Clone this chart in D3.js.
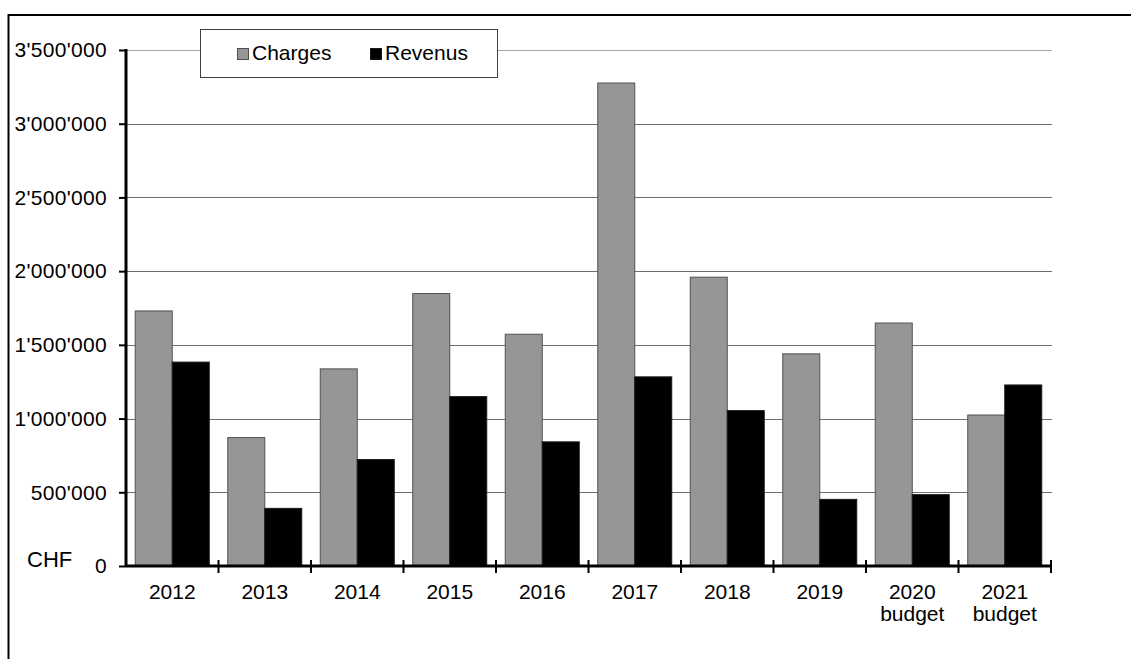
<!DOCTYPE html>
<html>
<head>
<meta charset="utf-8">
<script src="https://cdn.jsdelivr.net/npm/d3@7"></script>
<style>
  body { margin: 0; background: #fff; }
  svg { display: block; font-family: "Liberation Sans", Arial, sans-serif; }
</style>
</head>
<body>
<script>
// values (CHF)
const categories = ['2012', '2013', '2014', '2015', '2016', '2017', '2018', '2019', '2020 budget', '2021 budget'];
const charges = [1730000, 871000, 1337000, 1848000, 1572000, 3276000, 1959000, 1439000, 1648000, 1024000];
const revenus = [1383000, 391000, 722000, 1149000, 842000, 1283000, 1054000, 452000, 484000, 1228000];
const seriesNames = ['Charges', 'Revenus'];
const seriesColors = ['#969696', '#000000'];
const yTicks = [0, 500000, 1000000, 1500000, 2000000, 2500000, 3000000, 3500000];

const width = 1131, height = 659;
const plotLeft = 126, plotRight = 1051, plotTop = 50, plotBottom = 566;
const fontSize = 21;

let svg = d3.select('body').append('svg')
  .attr('width', width)
  .attr('height', height);

// frame (only top and left edges visible)
svg.append('path')
  .attr('d', `M8.5,${height}V15H${width}`)
  .attr('fill', 'none')
  .attr('stroke', '#000')
  .attr('stroke-width', 2);

let swiss = d3.formatLocale({ decimal: '.', thousands: "'", grouping: [3], currency: ['', ''] });
let fmt = swiss.format(',');

let x0 = d3.scaleBand()
  .domain(categories)
  .range([plotLeft, plotRight])
  .paddingInner(0.2)
  .paddingOuter(0.1);

let x1 = d3.scaleBand()
  .domain(seriesNames)
  .range([0, x0.bandwidth()]);

let y = d3.scaleLinear()
  .domain([0, 3500000])
  .range([plotBottom, plotTop]);

// gridlines
svg.append('g')
  .selectAll('line')
  .data(yTicks.slice(1))
  .enter()
  .append('line')
  .attr('x1', plotLeft)
  .attr('x2', plotRight + 1)
  .attr('y1', d => Math.round(y(d)) + 0.5)
  .attr('y2', d => Math.round(y(d)) + 0.5)
  .attr('stroke', d => d === 3500000 ? '#a6a6a6' : '#6e6e6e')
  .attr('stroke-width', 1.2);

// bars
let rows = categories.map((c, i) => ({ cat: c, values: [charges[i], revenus[i]] }));

svg.append('g')
  .selectAll('g')
  .data(rows)
  .enter()
  .append('g')
  .attr('transform', d => `translate(${x0(d.cat)},0)`)
  .selectAll('rect')
  .data(d => d.values.map((v, k) => ({ key: seriesNames[k], value: v, k: k })))
  .enter()
  .append('rect')
  .attr('x', d => x1(d.key))
  .attr('width', x1.bandwidth())
  .attr('y', d => y(d.value))
  .attr('height', d => y(0) - y(d.value))
  .attr('fill', d => seriesColors[d.k])
  .attr('stroke', d => d.k === 0 ? '#505050' : '#1a1a1a')
  .attr('stroke-width', 1);

// y axis
let yAxis = svg.append('g')
  .attr('transform', `translate(${plotLeft},0)`)
  .call(d3.axisLeft(y).tickValues(yTicks).tickFormat(fmt).tickSize(7).tickPadding(12));
yAxis.select('.domain').remove();
yAxis.selectAll('.tick line').attr('stroke', '#000').attr('stroke-width', 2);
yAxis.selectAll('.tick text')
  .attr('font-size', fontSize)
  .attr('font-family', '"Liberation Sans", Arial, sans-serif')
  .attr('letter-spacing', 0.3)
  .attr('fill', '#000');
yAxis.append('line')
  .attr('x1', 0).attr('x2', 0)
  .attr('y1', plotTop - 1).attr('y2', plotBottom + 1)
  .attr('stroke', '#000')
  .attr('stroke-width', 3);

// x axis
let step = x0.step();
let boundaries = d3.range(categories.length + 1).map(i => plotLeft + i * step);

let xAxis = svg.append('g');
xAxis.append('line')
  .attr('x1', plotLeft).attr('x2', plotRight + 1)
  .attr('y1', plotBottom).attr('y2', plotBottom)
  .attr('stroke', '#000')
  .attr('stroke-width', 3);
xAxis.selectAll('line.tick')
  .data(boundaries.slice(1))
  .enter()
  .append('line')
  .attr('class', 'tick')
  .attr('x1', d => d).attr('x2', d => d)
  .attr('y1', plotBottom - 6).attr('y2', plotBottom + 7)
  .attr('stroke', '#000')
  .attr('stroke-width', 2);

xAxis.selectAll('text')
  .data(categories)
  .enter()
  .append('text')
  .attr('x', d => x0(d) + x0.bandwidth() / 2)
  .attr('y', 599)
  .attr('text-anchor', 'middle')
  .attr('font-size', fontSize)
  .attr('fill', '#000')
  .each(function (d) {
    let parts = d.split(' ');
    d3.select(this).selectAll('tspan')
      .data(parts)
      .enter()
      .append('tspan')
      .attr('x', x0(d) + x0.bandwidth() / 2)
      .attr('dy', (p, i) => i === 0 ? 0 : 22)
      .text(p => p);
  });

// unit label
svg.append('text')
  .attr('x', 27)
  .attr('y', 567)
  .attr('font-size', 22)
  .text('CHF');

// legend
let legend = svg.append('g');
legend.append('rect')
  .attr('x', 200.5).attr('y', 29.5)
  .attr('width', 297).attr('height', 48)
  .attr('fill', '#fff')
  .attr('stroke', '#404040')
  .attr('stroke-width', 1);

let legendX = [237, 370];
seriesNames.forEach((name, i) => {
  legend.append('rect')
    .attr('x', legendX[i] + 0.5).attr('y', 48.5)
    .attr('width', 11).attr('height', 11)
    .attr('fill', seriesColors[i])
    .attr('stroke', i === 0 ? '#505050' : '#1a1a1a');
  legend.append('text')
    .attr('x', legendX[i] + 15)
    .attr('y', 60)
    .attr('font-size', fontSize)
    .text(name);
});
</script>
</body>
</html>
